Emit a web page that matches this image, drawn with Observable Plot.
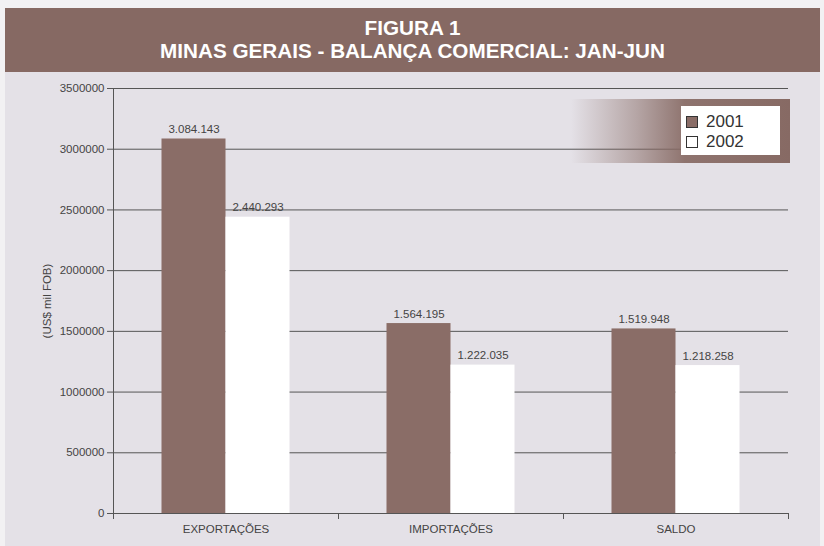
<!DOCTYPE html>
<html>
<head>
<meta charset="utf-8">
<script src="https://cdn.jsdelivr.net/npm/d3@7"></script>
<script src="https://cdn.jsdelivr.net/npm/@observablehq/plot@0.6"></script>
<style>
  body { margin:0; background:#f2f1f3; font-family:"Liberation Sans", Arial, sans-serif; }
  #wrap { position:relative; width:824px; height:546px; overflow:hidden; }
  #banner { position:absolute; left:5px; top:8px; width:815px; height:64px; background:#866963;
            color:#fff; text-align:center; font-weight:bold; font-family:"Liberation Sans",Arial,sans-serif; }
  #banner div { position:absolute; left:0; right:0; font-size:20.7px; line-height:21px; white-space:nowrap; }
  #banner .l1 { top:9px; }
  #banner .l2 { top:32px; }
  #panel { position:absolute; left:5px; top:72px; width:815px; height:474px; background:#e4e1e7; }
  #chart { position:absolute; left:0; top:72px; }
  #legendBg { position:absolute; left:571px; top:99px; width:219px; height:64px;
              background:linear-gradient(to right, rgba(135,106,100,0) 0%, rgba(135,106,100,0.5) 30%, rgba(135,106,100,0.92) 52%, rgba(135,106,100,1) 100%); }
  #legendBox { position:absolute; left:681px; top:106px; width:99px; height:49px; background:#fff; }
  .item { position:absolute; left:5px; height:20px; display:flex; align-items:center; font-size:17px; color:#333; }
  .sw { width:10px; height:10px; border:1px solid #333; margin-right:8px; }
</style>
</head>
<body>
<div id="wrap">
  <div id="banner"><div class="l1">FIGURA 1</div><div class="l2">MINAS GERAIS - BALANÇA COMERCIAL: JAN-JUN</div></div>
  <div id="panel"></div>
  <div id="chart"></div>
  <div id="legendBg"></div>
  <div id="legendBox"></div>
</div>
<script>
const categories = ["EXPORTAÇÕES", "IMPORTAÇÕES", "SALDO"];
const years = ["2001", "2002"];
const values2001 = [3084143, 1564195, 1519948];
const values2002 = [2440293, 1222035, 1218258];
const yTicks = [0, 500000, 1000000, 1500000, 2000000, 2500000, 3000000, 3500000];
const yLabel = "(US$ mil FOB)";

const BROWN = "#8a6d67";
const colors = [BROWN, "#ffffff"];

const data2001 = categories.map((c, i) => ({category: c, year: years[0], value: values2001[i]}));
const data2002 = categories.map((c, i) => ({category: c, year: years[1], value: values2002[i]}));

const fmt = d3.formatLocale({decimal: ",", thousands: ".", grouping: [3], currency: ["", ""]}).format(",");

const chart = Plot.plot({
  width: 824,
  height: 474,
  marginTop: 16,
  marginBottom: 33,
  marginLeft: 113,
  marginRight: 36,
  style: {background: "transparent", fontFamily: "'Liberation Sans', Arial, sans-serif", fontSize: "11.5px", color: "#444"},
  x: {domain: categories, padding: 0, label: null},
  y: {domain: [0, 3500000], label: null},
  marks: [
    Plot.ruleY(yTicks, {stroke: "#555", strokeWidth: 1}),
    Plot.frame({anchor: "left", stroke: "#555"}),
    Plot.barY(data2001, {x: "category", y: "value", fill: colors[0], insetLeft: 48.5, insetRight: 112.5}),
    Plot.barY(data2002, {x: "category", y: "value", fill: colors[1], insetLeft: 112.5, insetRight: 48.5}),
    Plot.text(data2001, {x: "category", y: "value", text: d => fmt(d.value), dx: -32, dy: -6, lineAnchor: "bottom", fill: "#444"}),
    Plot.text(data2002, {x: "category", y: "value", text: d => fmt(d.value), dx: 32, dy: -6, lineAnchor: "bottom", fill: "#444"}),
    Plot.axisY({ticks: yTicks, tickFormat: d => String(d), tickSize: 6, tickPadding: 3, stroke: "#555", label: null}),
    Plot.text([yLabel], {text: d => d, frameAnchor: "left", textAnchor: "middle", rotate: -90, dx: -66.5, fill: "#444"}),
    Plot.axisX({tickSize: 0, tickPadding: 11, label: null}),
    Plot.axisX({ticks: categories, tickSize: 6, text: null, label: null, dx: -112.5, stroke: "#555"}),
    Plot.axisX({ticks: categories.slice(-1), tickSize: 6, text: null, label: null, dx: 112.5, stroke: "#555"}),
    Plot.ruleY([0], {stroke: "#555"})
  ]
});
document.getElementById("chart").appendChild(chart);

const box = document.getElementById("legendBox");
years.forEach((y, i) => {
  const it = document.createElement("div");
  it.className = "item";
  it.style.top = (6 + i * 20) + "px";
  const sw = document.createElement("div");
  sw.className = "sw";
  sw.style.background = colors[i];
  it.appendChild(sw);
  it.appendChild(document.createTextNode(y));
  box.appendChild(it);
});
</script>
</body>
</html>
